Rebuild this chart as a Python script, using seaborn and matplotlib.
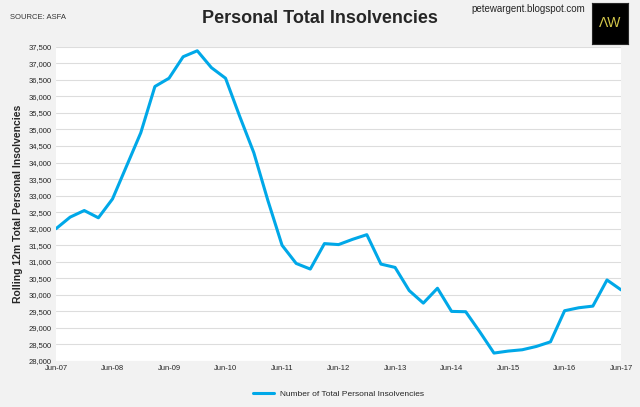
import matplotlib
matplotlib.use("Agg")
import matplotlib.pyplot as plt
import numpy as np
import pandas as pd
import seaborn as sns

insolvencies = [
    32000, 32350, 32550, 32330, 32900, 33900, 34900, 36300, 36550, 37200,
    37380, 36870, 36550, 35400, 34300, 32850, 31500, 30950, 30780, 31550,
    31520, 31680, 31820, 30930, 30830, 30130, 29750, 30200, 29500, 29490,
    28880, 28240, 28300, 28340, 28440, 28580, 29520, 29610, 29660, 30450,
    30150,
]
tick_labels = [f"Jun-{y:02d}" for y in range(7, 18)]
y_ticks = list(range(28000, 37501, 500))

sns.set_style("white")
plt.rcParams["font.family"] = ["Liberation Sans", "DejaVu Sans"]

df = pd.DataFrame({"idx": np.arange(len(insolvencies)), "value": insolvencies})

fig = plt.figure(figsize=(6.4, 4.07), dpi=100, facecolor="#f2f2f2")
ax = fig.add_axes([0.0875, 0.113, 0.883, 0.772])
ax.set_facecolor("white")
sns.lineplot(data=df, x="idx", y="value", color="#00a8e8", linewidth=2.2,
             ax=ax, label="Number of Total Personal Insolvencies")

ax.set_xlim(0, len(insolvencies) - 1)
ax.set_ylim(28000, 37500)
ax.set_xticks(np.arange(0, len(insolvencies), 4))
ax.set_xticklabels(tick_labels, fontsize=5.5)
ax.set_yticks(y_ticks)
ax.set_yticklabels([f"{v:,}" for v in y_ticks], fontsize=5.5)
ax.yaxis.grid(True, color="#dddddd", linewidth=0.8)
ax.tick_params(length=0, pad=3)
for s in ax.spines.values():
    s.set_visible(False)
ax.set_xlabel("")
ax.set_ylabel("Rolling 12m Total Personal Insolvencies", fontsize=7.5, fontweight="bold")

ax.legend(loc="upper center", bbox_to_anchor=(0.5, -0.07), frameon=False,
          fontsize=6, handlelength=2.5)

fig.text(0.5, 0.955, "Personal Total Insolvencies", ha="center", va="center",
         fontsize=13, fontweight="bold")
fig.text(0.016, 0.958, "SOURCE: ASFA", fontsize=5.5, va="center", color="#333333")
fig.text(0.825, 0.978, "petewargent.blogspot.com", fontsize=7, ha="center", va="center")
logo = fig.add_axes([0.925, 0.893, 0.056, 0.1])
logo.set_facecolor("black")
logo.set_xticks([]); logo.set_yticks([])
logo.text(0.5, 0.5, "ΛW", color="#d4c84a", ha="center", va="center", fontsize=10)

fig.savefig("out.png", dpi=100, facecolor=fig.get_facecolor())
